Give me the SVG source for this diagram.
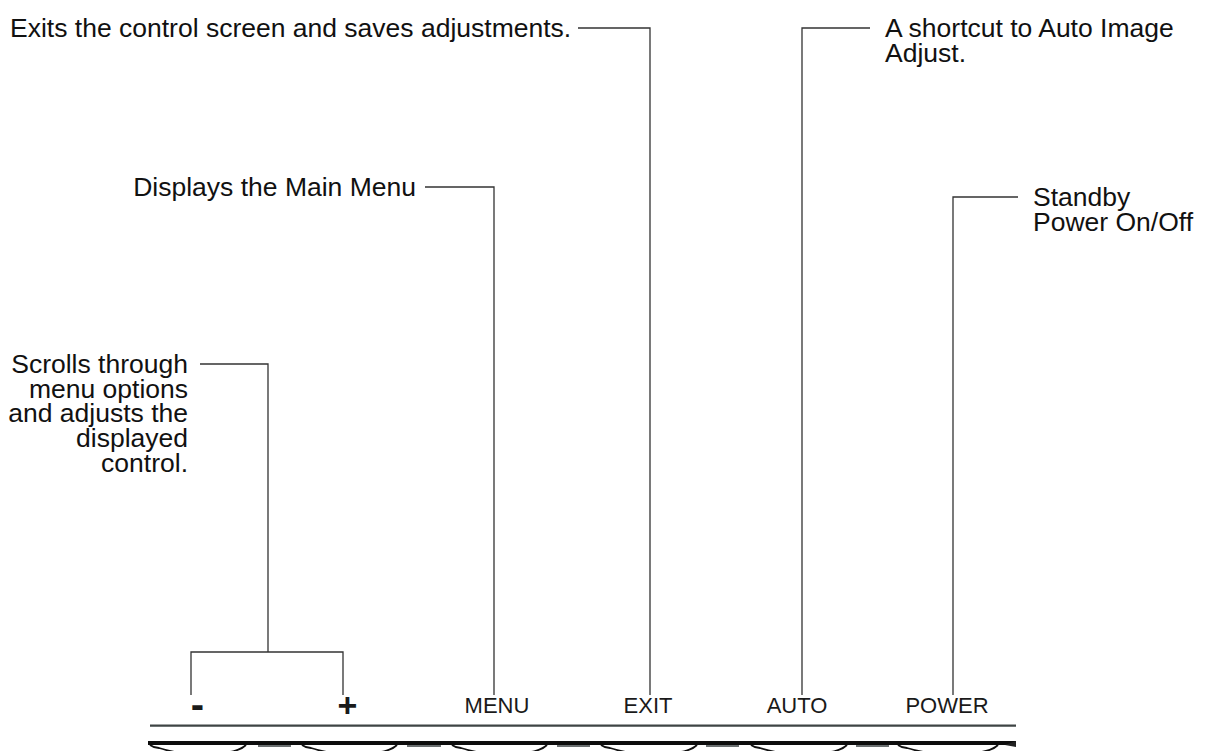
<svg xmlns="http://www.w3.org/2000/svg" width="1205" height="751" viewBox="0 0 1205 751">
<style>
.t{font-family:"Liberation Sans",Arial,sans-serif;font-size:26.5px;fill:#111}
.k{font-family:"Liberation Sans",Arial,sans-serif;font-size:22px;fill:#1a1a1a;text-anchor:middle}
.kb{font-family:"Liberation Sans",Arial,sans-serif;font-weight:bold;fill:#1a1a1a;text-anchor:middle}
.c{fill:none;stroke:#333;stroke-width:1.3}
.curl{fill:none;stroke:#111;stroke-width:1.8}
.dash{stroke:#6a6f70;stroke-width:2.2}
</style>
<rect width="1205" height="751" fill="#fff"/>
<g id="connectors">
<polyline class="c" points="578,28 650,28 650,695"/>
<polyline class="c" points="870,28 802,28 802,695"/>
<polyline class="c" points="425,187 494,187 494,695"/>
<polyline class="c" points="1018,197 953,197 953,695"/>
<polyline class="c" points="200,364 268,364 268,652"/>
<polyline class="c" points="191,695 191,652 343,652 343,695"/>
</g>
<g id="node-exit-desc"><text class="t" x="10" y="37">Exits the control screen and saves adjustments.</text></g>
<g id="node-auto-desc"><text class="t" x="885" y="37">A shortcut to Auto Image</text><text class="t" x="885" y="62">Adjust.</text></g>
<g id="node-menu-desc"><text class="t" x="416" y="196" text-anchor="end">Displays the Main Menu</text></g>
<g id="node-power-desc"><text class="t" x="1033" y="206">Standby</text><text class="t" x="1033" y="231">Power On/Off</text></g>
<g id="node-scroll-desc" text-anchor="end">
<text class="t" x="188" y="373">Scrolls through</text>
<text class="t" x="188" y="398">menu options</text>
<text class="t" x="188" y="422">and adjusts the</text>
<text class="t" x="188" y="447">displayed</text>
<text class="t" x="188" y="472">control.</text>
</g>
<g id="node-minus"><text class="kb" x="197.5" y="718" font-size="40">-</text></g>
<g id="node-plus"><text class="kb" x="347.5" y="717" font-size="34">+</text></g>
<g id="node-menu"><text class="k" x="497" y="713">MENU</text></g>
<g id="node-exit"><text class="k" x="648" y="713">EXIT</text></g>
<g id="node-auto"><text class="k" x="797" y="713">AUTO</text></g>
<g id="node-power"><text class="k" x="947" y="713">POWER</text></g>
<g id="bezel">
<line x1="150" y1="725.7" x2="1016" y2="725.7" stroke="#3e4444" stroke-width="2.2"/>
<rect x="148" y="741" width="868" height="4" fill="#0d0d0d"/>
<line class="dash" x1="258" y1="746" x2="291" y2="746"/>
<line class="dash" x1="407" y1="746" x2="441" y2="746"/>
<line class="dash" x1="557" y1="746" x2="590" y2="746"/>
<line class="dash" x1="706" y1="746" x2="739" y2="746"/>
<line class="dash" x1="856" y1="746" x2="889" y2="746"/>
<path class="curl" d="M150 745 q4 3 9 3 Q198 760 234 751 q8 -2 12 -6"/>
<path class="curl" d="M302 745 q4 3 9 3 Q350 760 385 751 q8 -2 12 -6"/>
<path class="curl" d="M452 745 q4 3 9 3 Q500 760 535 751 q8 -2 12 -6"/>
<path class="curl" d="M601 745 q4 3 9 3 Q649 760 685 751 q8 -2 12 -6"/>
<path class="curl" d="M751 745 q4 3 9 3 Q799 760 835 751 q8 -2 12 -6"/>
<path class="curl" d="M898 745 q4 3 9 3 Q948 760 986 751 q8 -2 12 -6"/>
<path d="M1005 745 L1016 741 L1016 747 Z" fill="#222"/>
</g>
</svg>
